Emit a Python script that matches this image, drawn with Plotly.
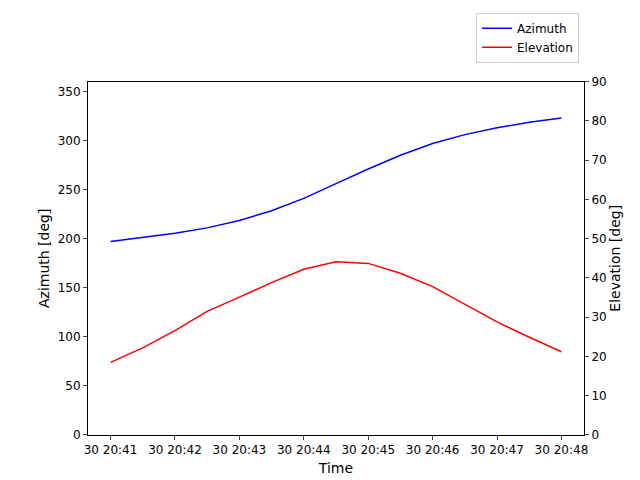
import plotly.graph_objects as go

times = ["2024-01-30 20:41:00","2024-01-30 20:41:30","2024-01-30 20:42:00","2024-01-30 20:42:30",
         "2024-01-30 20:43:00","2024-01-30 20:43:30","2024-01-30 20:44:00","2024-01-30 20:44:30",
         "2024-01-30 20:45:00","2024-01-30 20:45:30","2024-01-30 20:46:00","2024-01-30 20:46:30",
         "2024-01-30 20:47:00","2024-01-30 20:47:30","2024-01-30 20:48:00"]
azimuth = [197, 201, 205.5, 211, 218.5, 228.5, 241, 256, 271, 285, 297, 306, 313, 318.5, 323]
elevation = [18.5, 22.2, 26.6, 31.5, 35.1, 38.8, 42.2, 44.1, 43.7, 41.2, 37.8, 33.2, 28.8, 24.9, 21.2]
tick_vals = ["2024-01-30 20:%02d:00" % m for m in range(41, 49)]
tick_text = ["30 20:%02d" % m for m in range(41, 49)]

fig = go.Figure()
fig.add_trace(go.Scatter(x=times, y=azimuth, mode="lines", name="Azimuth", line=dict(color="blue", width=1.5)))
fig.add_trace(go.Scatter(x=times, y=elevation, mode="lines", name="Elevation", yaxis="y2", line=dict(color="red", width=1.5)))
ax = dict(showline=True, linecolor="black", ticks="outside", ticklen=4, showgrid=False, zeroline=False,
          tickfont=dict(size=12, color="black"))
fig.update_layout(
    width=640, height=480, plot_bgcolor="white", paper_bgcolor="white",
    font=dict(family="DejaVu Sans", size=12, color="black"),
    margin=dict(l=80, r=64, t=58, b=53),
    xaxis=dict(**ax, type="date", range=["2024-01-30 20:40:39", "2024-01-30 20:48:21"],
               tickvals=tick_vals, ticktext=tick_text, title=dict(text="Time", standoff=6), mirror=True),
    yaxis=dict(**ax, range=[0, 360], dtick=50, title=dict(text="Azimuth [deg]", standoff=4)),
    yaxis2=dict(**ax, range=[0, 90], dtick=10, overlaying="y", side="right", title=dict(text="Elevation [deg]", standoff=4)),
    legend=dict(x=0.99, y=0.99, xref="paper", yref="container", xanchor="right", yanchor="top",
                bordercolor="#cccccc", borderwidth=1, bgcolor="white", font=dict(size=12)),
    showlegend=True,
)
fig.write_html("out.html")
